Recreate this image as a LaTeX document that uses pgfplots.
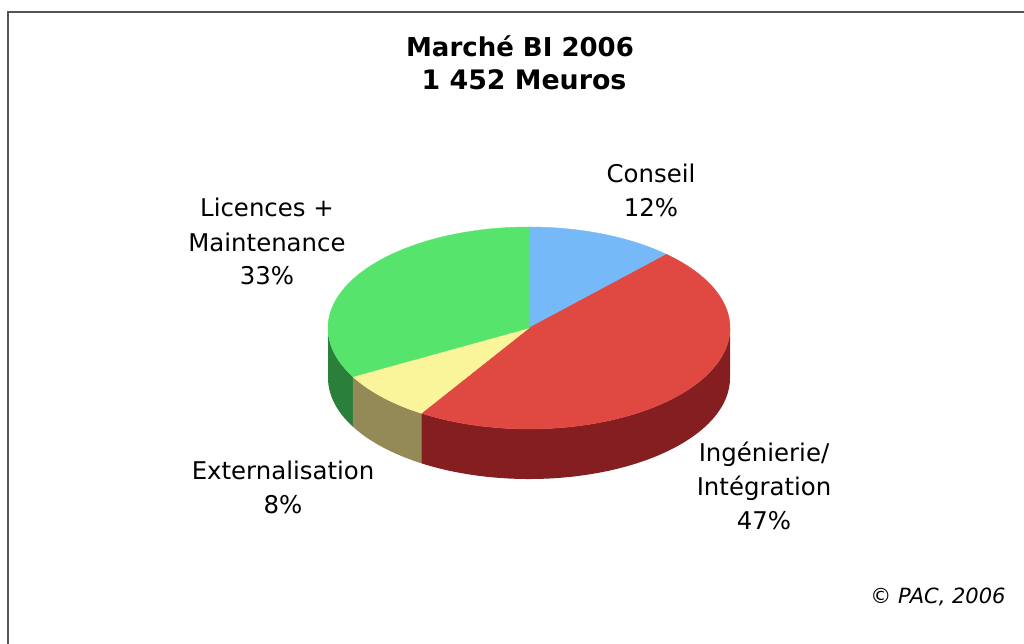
\documentclass[border=0pt]{standalone}
\usepackage{pgfplots}
\pgfplotsset{compat=1.18}
\usepackage{pgfplotstable}
\usepackage{fontspec}
\setmainfont{DejaVu Sans}
\definecolor{cBlue}{HTML}{76B9F9}
\definecolor{cRed}{HTML}{E04842}
\definecolor{cRedS}{HTML}{851E21}
\definecolor{cYel}{HTML}{FAF59A}
\definecolor{cYelS}{HTML}{938A58}
\definecolor{cGreen}{HTML}{56E46C}
\definecolor{cGreenS}{HTML}{2A7F3B}
\definecolor{frame}{HTML}{555555}

\pgfplotstableread{
label value
Conseil 12
Ingenierie 47
Externalisation 8
Licences 33
}\piedata
\pgfplotstablegetelem{0}{value}\of\piedata\pgfmathsetmacro\vA{\pgfplotsretval}
\pgfplotstablegetelem{1}{value}\of\piedata\pgfmathsetmacro\vB{\pgfplotsretval}
\pgfplotstablegetelem{2}{value}\of\piedata\pgfmathsetmacro\vC{\pgfplotsretval}
\pgfplotstablegetelem{3}{value}\of\piedata\pgfmathsetmacro\vD{\pgfplotsretval}
\pgfmathsetmacro\aA{90}
\pgfmathsetmacro\aB{\aA-3.6*\vA}
\pgfmathsetmacro\aC{\aB-3.6*\vB}
\pgfmathsetmacro\aD{\aC-3.6*\vC}
\pgfmathsetmacro\aE{\aD-3.6*\vD}

\begin{document}
\begin{tikzpicture}
\begin{axis}[scale only axis,
  width=512bp, height=322bp,
  xmin=0, xmax=1024, ymin=0, ymax=644,
  hide axis, clip=false]
\coordinate (SW) at (axis cs:0,0);
\coordinate (NE) at (axis cs:1024,644);
% frame
\draw[frame, line width=0.8bp] (axis cs:8,0) -- (axis cs:8,632) -- (axis cs:1024,632);
% side walls (front half)
\addplot[fill=cGreenS, draw=none, domain=-180:\aD, samples=40] ({529+201*cos(x)},{316+101*sin(x)})
  -- ++(0,-25bp) arc[start angle=\aD, end angle=-180, x radius=100.5bp, y radius=50.5bp] -- cycle;
\addplot[fill=cYelS, draw=none, domain=\aD:\aC, samples=40] ({529+201*cos(x)},{316+101*sin(x)})
  -- ++(0,-25bp) arc[start angle=\aC, end angle=\aD, x radius=100.5bp, y radius=50.5bp] -- cycle;
\addplot[fill=cRedS, draw=none, domain=\aC:0, samples=80] ({529+201*cos(x)},{316+101*sin(x)})
  -- ++(0,-25bp) arc[start angle=0, end angle=\aC, x radius=100.5bp, y radius=50.5bp] -- cycle;
% top slices
\addplot[fill=cBlue, draw=cBlue, line width=0.2bp, domain=\aB:\aA, samples=40] ({529+201*cos(x)},{316+101*sin(x)}) -- (axis cs:529,316) -- cycle;
\addplot[fill=cRed, draw=cRed, line width=0.2bp, domain=\aC:\aB, samples=120] ({529+201*cos(x)},{316+101*sin(x)}) -- (axis cs:529,316) -- cycle;
\addplot[fill=cYel, draw=cYel, line width=0.2bp, domain=\aD:\aC, samples=30] ({529+201*cos(x)},{316+101*sin(x)}) -- (axis cs:529,316) -- cycle;
\addplot[fill=cGreen, draw=cGreen, line width=0.2bp, domain=\aE:\aD, samples=100] ({529+201*cos(x)},{316+101*sin(x)}) -- (axis cs:529,316) -- cycle;
% title
\node[anchor=base, inner sep=0pt, font=\fontsize{13bp}{15bp}\selectfont\bfseries] at (axis cs:520,587) {Marché BI 2006};
\node[anchor=base, inner sep=0pt, font=\fontsize{13.4bp}{15bp}\selectfont\bfseries] at (axis cs:524,554) {1 452 Meuros};
% labels
\tikzset{lbl/.style={anchor=base, inner sep=0pt, font=\fontsize{12.2bp}{14bp}\selectfont}}
\node[lbl] at (axis cs:651,461) {Conseil};
\node[lbl] at (axis cs:651,427) {12\%};
\node[lbl] at (axis cs:267,427) {Licences +};
\node[lbl] at (axis cs:267,392) {Maintenance};
\node[lbl] at (axis cs:267,359) {33\%};
\node[lbl] at (axis cs:283,164) {Externalisation};
\node[lbl] at (axis cs:283,130) {8\%};
\node[lbl] at (axis cs:764,182) {Ingénierie/};
\node[lbl] at (axis cs:764,148) {Intégration};
\node[lbl] at (axis cs:764,114) {47\%};
% copyright
\node[anchor=base, inner sep=0pt, font=\fontsize{10.5bp}{12bp}\selectfont\itshape] at (axis cs:938,41) {© PAC, 2006};
\end{axis}
\pgfresetboundingbox
\useasboundingbox (SW) rectangle (NE);
\end{tikzpicture}
\end{document}
